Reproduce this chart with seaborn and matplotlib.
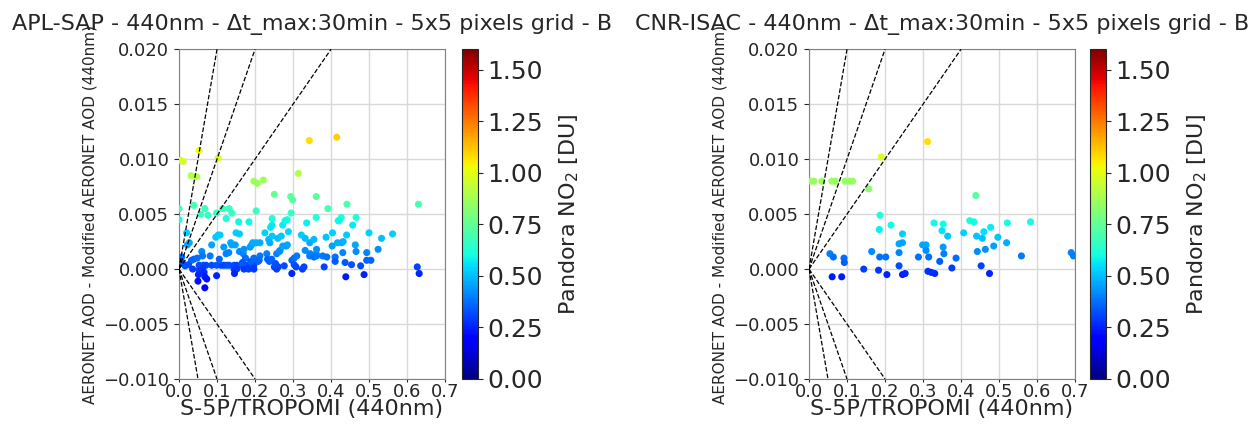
import numpy as np
import pandas as pd
import matplotlib
matplotlib.use("Agg")
import matplotlib.pyplot as plt
import seaborn as sns
from matplotlib.colors import Normalize
from matplotlib.cm import ScalarMappable

# ---- APL-SAP collocations -------------------------------------------------
apl_x = [0.343, 0.415, 0.053, 0.103, 0.004, 0.011, 0.032, 0.047, 0.197, 0.206,
         0.222, 0.314, 0.251, 0.294, 0.299, 0.361, 0.392, 0.442, 0.630, 0.039,
         0.000, 0.068, 0.057, 0.076, 0.099, 0.115, 0.132, 0.139, 0.203, 0.295,
         0.361, 0.427, 0.422, 0.466, 0.245, 0.285,
         0.000, 0.124, 0.157, 0.184, 0.245, 0.241, 0.273, 0.279, 0.336, 0.419,
         0.457, 0.020, 0.027, 0.022, 0.007, 0.004, 0.010, 0.033, 0.039, 0.048,
         0.016, 0.025, 0.036,
         0.053, 0.064, 0.071, 0.086, 0.099, 0.110, 0.118, 0.126, 0.132, 0.145,
         0.152, 0.164, 0.171, 0.180, 0.197,
         0.053, 0.062, 0.145, 0.152, 0.171, 0.183, 0.197,
         0.051, 0.066, 0.068, 0.073, 0.050, 0.068, 0.099, 0.146,
         0.060, 0.062, 0.082, 0.086, 0.097, 0.103, 0.108, 0.106, 0.118, 0.124,
         0.131, 0.136, 0.139, 0.150, 0.159, 0.148, 0.159, 0.169, 0.171, 0.175,
         0.167, 0.187, 0.191, 0.194, 0.189, 0.197, 0.203, 0.213, 0.208, 0.213,
         0.211, 0.226, 0.231, 0.233, 0.238, 0.244, 0.236, 0.239, 0.245, 0.251,
         0.257, 0.254, 0.257, 0.264, 0.266, 0.260, 0.269, 0.261, 0.273, 0.282,
         0.285, 0.277, 0.288, 0.297, 0.303, 0.310, 0.297, 0.303, 0.308, 0.325,
         0.329, 0.322, 0.332, 0.332, 0.344, 0.345, 0.355, 0.361, 0.362, 0.344,
         0.355, 0.362, 0.382, 0.378, 0.389, 0.387, 0.404, 0.403, 0.411, 0.411,
         0.417, 0.428, 0.432, 0.431, 0.437, 0.441, 0.439, 0.454, 0.464, 0.466,
         0.478, 0.487, 0.494, 0.494, 0.505, 0.500, 0.524, 0.533, 0.562, 0.627,
         0.632]
apl_y = [0.0117, 0.0120, 0.0108, 0.0101, 0.0099, 0.0098, 0.0085, 0.0084, 0.0080, 0.0078,
         0.0081, 0.0087, 0.0068, 0.0066, 0.0063, 0.0066, 0.0055, 0.0059, 0.0059, 0.0058,
         0.0055, 0.0055, 0.0050, 0.0049, 0.0051, 0.0055, 0.0055, 0.0051, 0.0053, 0.0051,
         0.0047, 0.0047, 0.0044, 0.0047, 0.0046, 0.0045,
         0.0045, 0.0046, 0.0043, 0.0043, 0.0040, 0.0038, 0.0040, 0.0044, 0.0042, 0.0044,
         0.0040, 0.0033, 0.0024, 0.0022, 0.0011, 0.0007, 0.0005, 0.0008, 0.0009, 0.0010,
         0.0003, 0.0004, 0.0000,
         0.00035, 0.00035, 0.00035, 0.00035, 0.00035, 0.00035, 0.00035, 0.00035, 0.00035, 0.00035,
         0.00035, 0.00035, 0.00035, 0.00035, 0.00035,
         -0.0001, 0.0001, 0.0000, 0.0000, 0.0000, 0.0000, 0.0000,
         -0.0005, -0.0003, -0.0007, -0.0009, -0.0011, -0.0017, -0.0006, -0.0004,
         0.0016, 0.0012, 0.0012, 0.0022, 0.0029, 0.0031, 0.0031, 0.0009, 0.0020, 0.0014,
         0.0015, 0.0024, 0.0022, 0.0033, 0.0032, 0.0022, 0.0016, 0.0014, 0.0018, 0.0010,
         0.0006, 0.0020, 0.0022, 0.0024, 0.0007, 0.0010, 0.0024, 0.0024, 0.0007, 0.0012,
         0.0008, 0.0033, 0.0014, 0.0009, 0.0007, 0.0009, 0.0027, 0.0024, 0.0030, 0.0002,
         0.0000, 0.0005, 0.0014, 0.0016, 0.0017, 0.0028, 0.0030, 0.0002, 0.0021, 0.0021,
         0.0022, 0.0003, 0.0034, 0.0008, 0.0010, 0.0012, -0.0004, 0.0004, 0.0002, 0.0000,
         0.0002, 0.0031, 0.0028, 0.0017, 0.0012, 0.0014, 0.0011, 0.0014, 0.0012, 0.0024,
         0.0027, 0.0018, 0.0002, 0.0012, 0.0011, 0.0029, 0.0033, 0.0021, 0.0011, 0.0007,
         0.0024, 0.0024, 0.0025, 0.0015, 0.0006, 0.0031, -0.0007, 0.0004, 0.0022, 0.0016,
         0.0003, -0.0005, 0.0015, 0.0008, 0.0008, 0.0033, 0.0018, 0.0028, 0.0032, 0.0002,
         -0.0004]
apl_no2 = [1.08, 1.10, 1.02, 0.98, 0.97, 0.97, 0.90, 0.90, 0.87, 0.86,
           0.87, 0.90, 0.76, 0.74, 0.73, 0.74, 0.70, 0.71, 0.70, 0.70,
           0.68, 0.68, 0.67, 0.66, 0.67, 0.68, 0.68, 0.66, 0.67, 0.66,
           0.63, 0.63, 0.62, 0.62, 0.62, 0.62,
           0.60, 0.62, 0.59, 0.59, 0.57, 0.56, 0.57, 0.59, 0.58, 0.59,
           0.57, 0.53, 0.47, 0.46, 0.38, 0.35, 0.34, 0.36, 0.36, 0.37,
           0.32, 0.33, 0.30,
           0.32, 0.32, 0.31, 0.32, 0.33, 0.32, 0.31, 0.32, 0.33, 0.32,
           0.31, 0.32, 0.33, 0.32, 0.31,
           0.29, 0.30, 0.30, 0.30, 0.29, 0.30, 0.29,
           0.26, 0.27, 0.24, 0.23, 0.22, 0.18, 0.25, 0.26,
           0.42, 0.39, 0.39, 0.46, 0.51, 0.52, 0.52, 0.36, 0.44, 0.40,
           0.41, 0.47, 0.46, 0.53, 0.52, 0.46, 0.42, 0.40, 0.43, 0.37,
           0.34, 0.44, 0.45, 0.47, 0.35, 0.37, 0.47, 0.47, 0.35, 0.39,
           0.36, 0.53, 0.40, 0.36, 0.35, 0.36, 0.49, 0.47, 0.51, 0.31,
           0.30, 0.33, 0.40, 0.42, 0.42, 0.50, 0.51, 0.31, 0.45, 0.45,
           0.46, 0.32, 0.54, 0.36, 0.37, 0.39, 0.26, 0.33, 0.31, 0.30,
           0.31, 0.52, 0.50, 0.42, 0.39, 0.40, 0.38, 0.40, 0.39, 0.47,
           0.49, 0.43, 0.31, 0.39, 0.38, 0.51, 0.53, 0.45, 0.38, 0.35,
           0.47, 0.47, 0.48, 0.41, 0.34, 0.52, 0.24, 0.33, 0.46, 0.42,
           0.32, 0.25, 0.41, 0.36, 0.36, 0.53, 0.43, 0.50, 0.52, 0.31,
           0.26]

# ---- CNR-ISAC collocations ------------------------------------------------
isac_x = [0.004, 0.013, 0.034, 0.060, 0.069, 0.095, 0.106, 0.115, 0.157, 0.190,
          0.312, 0.187, 0.185, 0.216, 0.246, 0.237, 0.246, 0.165, 0.186, 0.202,
          0.237, 0.055, 0.064, 0.092, 0.093, 0.144, 0.183, 0.205, 0.237, 0.246,
          0.253, 0.061, 0.086, 0.299, 0.308, 0.308, 0.288, 0.315, 0.313, 0.322,
          0.331, 0.329, 0.350, 0.353, 0.353, 0.344, 0.355, 0.365, 0.387, 0.376,
          0.407, 0.423, 0.434, 0.439, 0.441, 0.456, 0.460, 0.478, 0.443, 0.464,
          0.486, 0.497, 0.520, 0.522, 0.453, 0.475, 0.559, 0.583, 0.690, 0.696]
isac_y = [0.0080, 0.0080, 0.0080, 0.0080, 0.0080, 0.0080, 0.0080, 0.0080, 0.0073, 0.0102,
          0.0116, 0.0049, 0.0036, 0.0040, 0.0032, 0.0023, 0.0024, 0.0016, 0.0011, 0.0011,
          0.0015, 0.0014, 0.0011, 0.0010, 0.0006, 0.0000, -0.0001, -0.0005, 0.0003, -0.0005,
          -0.0004, -0.0007, -0.0007, 0.0022, 0.0022, 0.0017, 0.0011, 0.0011, -0.0002, -0.0003,
          -0.0004, 0.0042, 0.0035, 0.0041, 0.0020, 0.0007, 0.0014, 0.0030, 0.0010, 0.0001,
          0.0033, 0.0044, 0.0043, 0.0067, 0.0030, 0.0028, 0.0034, 0.0038, 0.0016, 0.0018,
          0.0021, 0.0029, 0.0024, 0.0042, 0.0003, -0.0004, 0.0012, 0.0043, 0.0015, 0.0012]
isac_no2 = [0.85, 0.85, 0.85, 0.85, 0.85, 0.85, 0.85, 0.85, 0.82, 0.98,
            1.08, 0.62, 0.58, 0.60, 0.52, 0.46, 0.46, 0.42, 0.38, 0.38,
            0.41, 0.40, 0.38, 0.37, 0.35, 0.30, 0.29, 0.25, 0.32, 0.25,
            0.26, 0.24, 0.24, 0.46, 0.46, 0.42, 0.38, 0.38, 0.28, 0.27,
            0.27, 0.60, 0.56, 0.60, 0.44, 0.35, 0.40, 0.51, 0.37, 0.30,
            0.53, 0.61, 0.60, 0.73, 0.51, 0.50, 0.55, 0.57, 0.42, 0.43,
            0.45, 0.51, 0.47, 0.60, 0.31, 0.26, 0.39, 0.60, 0.41, 0.39]

# Reference lines through the origin (relative-difference envelopes)
ref_slopes = [0.2, 0.1, 0.05, -0.2, -0.1, -0.05]

x_ticks = [0.0, 0.1, 0.2, 0.3, 0.4, 0.5, 0.6, 0.7]
y_ticks = [-0.010, -0.005, 0.000, 0.005, 0.010, 0.015, 0.020]
cbar_ticks = [0.00, 0.25, 0.50, 0.75, 1.00, 1.25, 1.50]
no2_range = (0.0, 1.6)

panels = [
    ("APL-SAP - 440nm - Δt_max:30min - 5x5 pixels grid - B", apl_x, apl_y, apl_no2),
    ("CNR-ISAC - 440nm - Δt_max:30min - 5x5 pixels grid - B", isac_x, isac_y, isac_no2),
]

sns.set_style("ticks")
plt.rcParams['font.family'] = ['DejaVu Sans']

W, H = 1260, 426
fig = plt.figure(figsize=(W / 100, H / 100), dpi=100)

ax_left_px = [179, 809]
ax_w_px = 266
cb_left_px = [462, 1090]
cb_w_px = 16
ax_bottom = 1 - 379 / H
ax_height = (379 - 49.3) / H

norm = Normalize(*no2_range)
cmap = plt.get_cmap("jet")

for i, (title, xs, ys, cs) in enumerate(panels):
    ax = fig.add_axes([ax_left_px[i] / W, ax_bottom, ax_w_px / W, ax_height])
    df = pd.DataFrame({"x": xs, "y": ys, "no2": cs})
    ax.set_axisbelow(True)
    ax.grid(True, color="#d9d9d9", linewidth=1.0)
    sns.scatterplot(data=df, x="x", y="y", hue="no2", palette=cmap, hue_norm=norm,
                    s=26, linewidth=0, legend=False, ax=ax, zorder=3)
    for k in ref_slopes:
        ax.axline((0, 0), slope=k, color="black", linestyle="--", linewidth=0.9, zorder=4)
    ax.set_xlim(x_ticks[0], x_ticks[-1])
    ax.set_ylim(y_ticks[0], y_ticks[-1])
    ax.set_xticks(x_ticks)
    ax.set_yticks(y_ticks)
    ax.set_xticklabels([f"{v:.1f}" for v in x_ticks])
    ax.set_yticklabels([f"{v:.3f}".replace("-", "\u2212") for v in y_ticks])
    ax.tick_params(labelsize=13, length=3.5, width=0.8)
    ax.tick_params(axis="x", length=2.5, pad=0.5)
    for sp in ax.spines.values():
        sp.set_color("#808080")
        sp.set_linewidth(0.8)
    ax.set_xlabel("S-5P/TROPOMI (440nm)", fontsize=16)
    ax.xaxis.set_label_coords(0.5, -0.062)
    ax.set_ylabel("AERONET AOD - Modified AERONET AOD (440nm)", fontsize=11)
    ax.set_title(title, fontsize=16, pad=14)

    cax = fig.add_axes([cb_left_px[i] / W, ax_bottom, cb_w_px / W, ax_height])
    sm = ScalarMappable(norm=norm, cmap=cmap)
    cb = fig.colorbar(sm, cax=cax, ticks=cbar_ticks)
    cb.ax.set_yticklabels([f"{v:.2f}" for v in cbar_ticks])
    cb.ax.tick_params(labelsize=18)
    cb.outline.set_linewidth(0.8)
    cb.set_label("Pandora NO$_2$ [DU]", fontsize=16, labelpad=10)

fig.savefig("out.png", dpi=100)
